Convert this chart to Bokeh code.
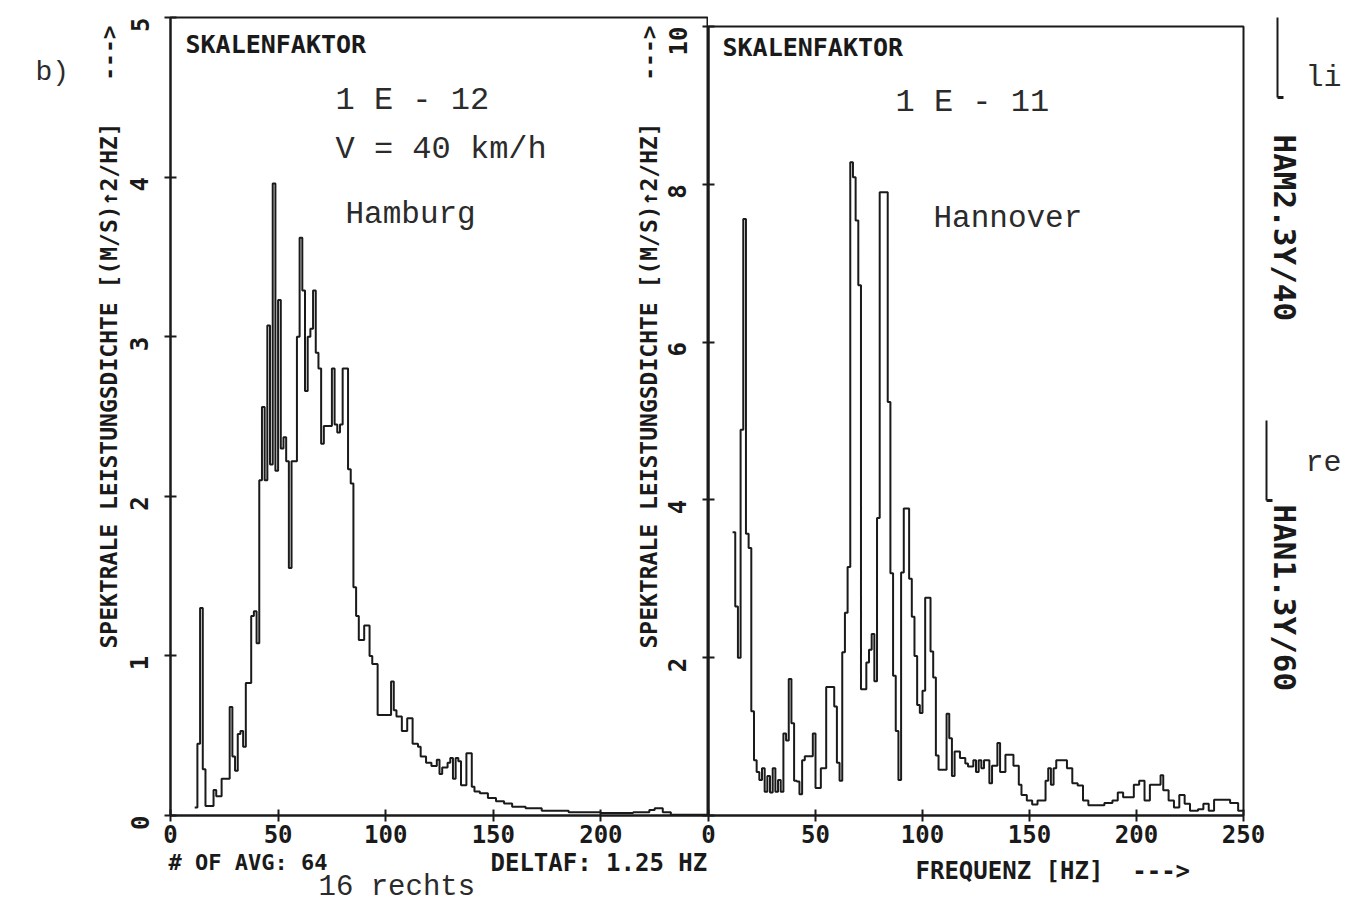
import math
from bokeh.plotting import figure
from bokeh.models import Range1d, Label, Arrow, ColumnDataSource
from bokeh.embed import file_html
from bokeh.resources import INLINE

# ---------------- data ----------------
# Hamburg, 1E-12 scale, step spectrum (frequency breakpoints in Hz, PSD values)
ham_f = [11.25, 12.5, 13.75, 15.0, 16.25, 20.0, 21.25, 23.75, 27.5, 28.75, 30.0,
         31.25, 32.5, 33.75, 35.0, 37.5, 38.75, 40.0, 41.25, 42.5, 43.75, 45.0,
         46.25, 47.5, 48.75, 50.0, 51.25, 52.5, 53.75, 55.0, 56.25, 58.75, 60.0,
         61.25, 62.5, 63.75, 65.0, 66.25, 67.5, 68.75, 70.0, 71.25, 75.0, 76.25,
         77.5, 78.75, 80.0, 82.5, 83.75, 85.0, 86.25, 87.5, 90.0, 92.5, 93.75,
         96.25, 102.5, 103.75, 105.0, 107.5, 110.0, 112.5, 115.0, 116.25, 118.75,
         121.25, 123.75, 125.0, 126.25, 128.75, 130.0, 131.25, 132.5, 133.75,
         135.0, 137.5, 140.0, 141.25, 143.75, 147.5, 151.25, 155.0, 158.75, 165.0,
         172.5, 185.0, 200.0, 215.0, 222.5, 225.0, 228.75, 232.5, 250.0]
ham_v = [0.05, 0.45, 1.30, 0.29, 0.06, 0.16, 0.12, 0.23, 0.68, 0.37, 0.28,
         0.51, 0.53, 0.43, 0.83, 1.25, 1.28, 1.08, 2.10, 2.56, 2.10, 3.07,
         2.20, 3.96, 2.16, 3.23, 2.30, 2.37, 2.22, 1.55, 2.22, 3.00, 3.62,
         3.29, 2.66, 3.00, 3.05, 3.29, 2.90, 2.80, 2.33, 2.44, 2.80, 2.45,
         2.40, 2.45, 2.80, 2.17, 2.08, 1.43, 1.25, 1.10, 1.19, 1.00, 0.95,
         0.63, 0.84, 0.66, 0.62, 0.53, 0.61, 0.45, 0.43, 0.37, 0.33,
         0.31, 0.35, 0.26, 0.30, 0.33, 0.36, 0.23, 0.36, 0.34,
         0.19, 0.39, 0.18, 0.15, 0.14, 0.11, 0.09, 0.075, 0.055, 0.045,
         0.03, 0.02, 0.015, 0.02, 0.035, 0.045, 0.02, 0.005, 0.005]

# Hannover, 1E-11 scale
han_f = [11.25, 12.5, 13.75, 15.0, 16.25, 17.5, 18.75, 20.0, 21.25, 22.5, 23.75,
         25.0, 26.25, 27.5, 28.75, 30.0, 31.25, 32.5, 33.75, 35.0, 36.25, 37.5,
         38.75, 40.0, 41.25, 42.5, 43.75, 45.0, 48.75, 50.0, 52.5, 55.0, 58.75,
         60.0, 61.25, 62.5, 63.75, 65.0, 66.25, 67.5, 68.75, 70.0, 71.25, 73.75,
         75.0, 76.25, 77.5, 78.75, 80.0, 83.75, 85.0, 86.25, 87.5, 88.75, 90.0,
         91.25, 93.75, 95.0, 96.25, 97.5, 98.75, 100.0, 101.25, 103.75, 105.0,
         106.25, 107.5, 111.25, 112.5, 113.75, 115.0, 117.5, 120.0, 121.25,
         123.75, 125.0, 126.25, 127.5, 128.75, 131.25, 132.5, 135.0, 136.25,
         138.75, 142.5, 145.0, 146.25, 148.75, 151.25, 153.75, 157.5, 158.75,
         160.0, 161.25, 162.5, 167.5, 170.0, 172.5, 175.0, 177.5, 185.0, 188.75,
         191.25, 193.75, 198.75, 201.25, 203.75, 206.25, 211.25, 212.5, 215.0,
         217.5, 220.0, 222.5, 225.0, 228.75, 231.25, 233.75, 236.25, 243.75,
         247.5, 250.0]
han_v = [3.59, 2.65, 2.00, 4.89, 7.56, 3.57, 3.39, 1.32, 0.70, 0.55, 0.45,
         0.60, 0.30, 0.50, 0.29, 0.60, 0.30, 0.45, 0.30, 1.04, 0.95, 1.73,
         1.17, 0.44, 0.43, 0.27, 0.70, 0.75, 1.04, 0.35, 0.60, 1.63, 1.38,
         0.67, 0.44, 2.07, 2.57, 3.15, 8.28, 8.09, 7.54, 6.72, 1.60, 1.94,
         2.10, 2.30, 1.70, 3.77, 7.90, 5.24, 3.07, 1.77, 1.07, 0.45, 3.08,
         3.89, 3.00, 2.52, 2.02, 1.40, 1.30, 1.58, 2.76, 2.08, 1.75,
         0.76, 0.58, 1.29, 0.98, 0.50, 0.81, 0.73, 0.66, 0.62,
         0.70, 0.55, 0.70, 0.60, 0.70, 0.41, 0.63, 0.92, 0.55,
         0.77, 0.63, 0.39, 0.26, 0.19, 0.14, 0.19, 0.44, 0.60,
         0.39, 0.60, 0.70, 0.60, 0.41, 0.38, 0.19, 0.13, 0.16, 0.19,
         0.29, 0.23, 0.39, 0.44, 0.19, 0.39, 0.51, 0.32, 0.19,
         0.10, 0.26, 0.15, 0.06, 0.08, 0.15, 0.06, 0.20, 0.16,
         0.06, 0.06]

ham_x_ticks = [0, 50, 100, 150, 200]
ham_y_ticks = [0, 1, 2, 3, 4, 5]
han_x_ticks = [0, 50, 100, 150, 200, 250]
han_y_ticks = [0, 2, 4, 6, 8, 10]

# ---------------- layout geometry (page pixels) ----------------
W, H = 1344, 912
PLOT_FONT = "DejaVu Sans Mono"
TYPE_FONT = "Liberation Mono"
INK = "#1a1a1a"
TYPE_INK = "#2b2b2b"
NB = "\u00a0"

L_FRAME_L, L_FRAME_R = 170, 708
R_FRAME_L, R_FRAME_R = 708, 1243
L_TOP, R_TOP, BOTTOM = 17, 26, 815
R_CANVAS_L = 633


def style_axes(p, xt, yt, y_over=None):
    p.xgrid.visible = False
    p.ygrid.visible = False
    p.outline_line_color = INK
    p.outline_line_width = 2
    for ax in p.axis:
        ax.axis_line_color = INK
        ax.axis_line_width = 2
        ax.major_tick_line_color = INK
        ax.major_tick_line_width = 2
        ax.major_tick_in = 6
        ax.major_tick_out = 6
        ax.minor_tick_line_color = None
        ax.major_label_text_font = PLOT_FONT
        ax.major_label_text_font_style = "bold"
        ax.major_label_text_font_size = "24px"
        ax.major_label_text_color = INK
    p.xaxis.ticker = xt
    p.yaxis.ticker = yt
    p.xaxis.major_label_standoff = 3
    p.yaxis.major_label_standoff = 25
    p.yaxis.major_label_orientation = math.pi / 2
    if y_over:
        p.yaxis.major_label_overrides = y_over


# ---------------- left panel: Hamburg ----------------
pl = figure(width=L_FRAME_R, height=H, output_backend="svg", toolbar_location=None,
            x_range=Range1d(0, 250), y_range=Range1d(0, 5),
            min_border_left=L_FRAME_L, min_border_right=0,
            min_border_top=L_TOP, min_border_bottom=H - BOTTOM,
            background_fill_color="white", border_fill_color="white")
style_axes(pl, ham_x_ticks, ham_y_ticks)
pl.step(x="f", y="v", source=ColumnDataSource(dict(f=ham_f, v=ham_v)),
        mode="after", line_color=INK, line_width=2)

# ---------------- right panel: Hannover (separate root, pulled up beside the left one) ----------------
pr = figure(width=W - R_CANVAS_L, height=H, output_backend="svg", toolbar_location=None,
            x_range=Range1d(0, 250), y_range=Range1d(0, 10),
            min_border_left=R_FRAME_L - R_CANVAS_L, min_border_right=W - R_FRAME_R,
            min_border_top=R_TOP, min_border_bottom=H - BOTTOM,
            background_fill_alpha=0, border_fill_alpha=0,
            margin=(-H, 0, 0, R_CANVAS_L))
style_axes(pr, han_x_ticks, han_y_ticks, y_over={0: ""})
pr.step(x="f", y="v", source=ColumnDataSource(dict(f=han_f, v=han_v)),
        mode="after", line_color=INK, line_width=2)

# ---------------- transparent text overlay (page pixel coordinates) ----------------
ov = figure(width=W, height=H, output_backend="svg", toolbar_location=None,
            x_range=Range1d(0, W), y_range=Range1d(H, 0),
            x_axis_type=None, y_axis_type=None,
            min_border=0, min_border_left=0, min_border_right=0,
            min_border_top=0, min_border_bottom=0,
            outline_line_color=None, background_fill_alpha=0, border_fill_alpha=0,
            margin=(-(H + 8), 0, 0, 0))
ov.grid.visible = False


def add_text(x, y, text, font, size, angle=0.0, align="left",
             baseline="alphabetic", bold=False, color=INK):
    ov.add_layout(Label(x=x, y=y, text=text, text_font=font,
                        text_font_size=size, angle=angle, text_align=align,
                        text_baseline=baseline, text_color=color,
                        text_font_style="bold" if bold else "normal"))


YLAB = "SPEKTRALE LEISTUNGSDICHTE [(M/S)\u21912/HZ]" + NB * 3 + "--->"
add_text(108, 656, YLAB, PLOT_FONT, "23px", angle=math.pi / 2, baseline="middle", bold=True)
add_text(648, 656, YLAB, PLOT_FONT, "23px", angle=math.pi / 2, baseline="middle", bold=True)
add_text(185, 52, "SKALENFAKTOR", PLOT_FONT, "25px", bold=True)
add_text(722, 55, "SKALENFAKTOR", PLOT_FONT, "25px", bold=True)
add_text(335, 108, "1 E - 12", TYPE_FONT, "32px", color=TYPE_INK)
add_text(335, 157, "V = 40 km/h", TYPE_FONT, "32px", color=TYPE_INK)
add_text(345, 222, "Hamburg", TYPE_FONT, "31px", color=TYPE_INK)
add_text(895, 110, "1 E - 11", TYPE_FONT, "32px", color=TYPE_INK)
add_text(933, 226, "Hannover", TYPE_FONT, "31px", color=TYPE_INK)
add_text(35, 80, "b)", TYPE_FONT, "28px", color=TYPE_INK)
add_text(168, 870, "# OF AVG: 64", PLOT_FONT, "22px", bold=True)
add_text(490, 870, "DELTAF: 1.25 HZ", PLOT_FONT, "24px", bold=True)
add_text(915, 878, "FREQUENZ [HZ]" + NB * 2 + "--->", PLOT_FONT, "24px", bold=True)
add_text(318, 895, "16 rechts", TYPE_FONT, "29px", color=TYPE_INK)
add_text(1305, 85, "li", TYPE_FONT, "30px", color=TYPE_INK)
add_text(1305, 470, "re", TYPE_FONT, "30px", color=TYPE_INK)
add_text(1284, 142, "HAM2.3Y/40", PLOT_FONT, "31px", angle=-math.pi / 2,
         baseline="middle", bold=True)
add_text(1284, 512, "HAN1.3Y/60", PLOT_FONT, "31px", angle=-math.pi / 2,
         baseline="middle", bold=True)

for (px, top, bot) in [(1277, 25, 105), (1266, 428, 508)]:
    ov.add_layout(Arrow(x_start=px, y_start=top, x_end=px, y_end=bot,
                        end=None, line_color=INK, line_width=2))
    ov.add_layout(Arrow(x_start=px, y_start=bot, x_end=px + 6, y_end=bot,
                        end=None, line_color=INK, line_width=3))

open("out.html", "w").write(file_html([pl, pr, ov], INLINE))
